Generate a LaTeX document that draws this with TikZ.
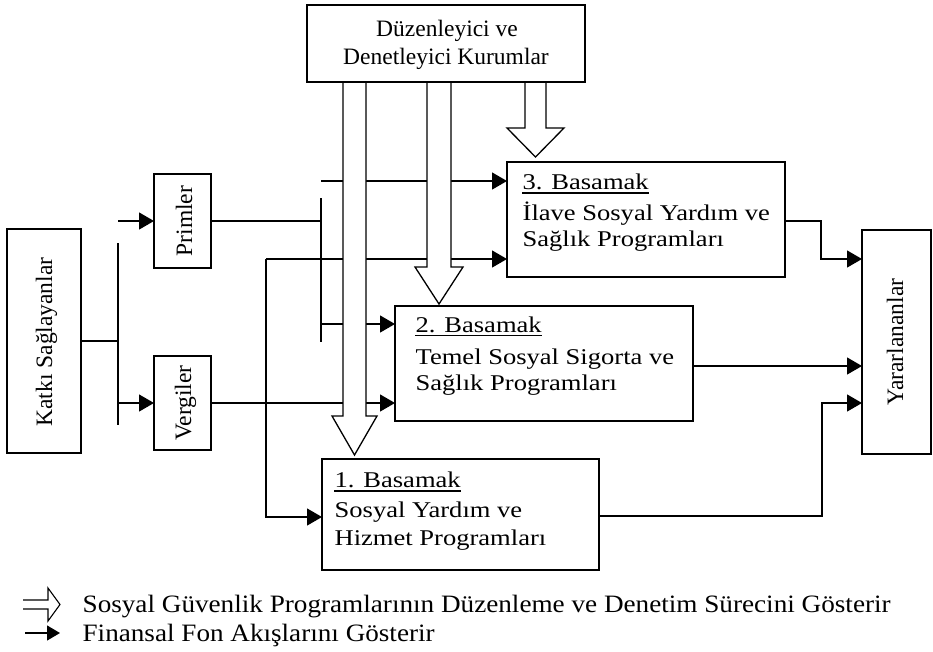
\documentclass[tikz,border=0pt]{standalone}
\usepackage{fontspec}
\usepackage{graphicx}
\setmainfont{Liberation Serif}
\newfontfamily\widefont[FakeStretch=1.18]{Liberation Serif}
\usetikzlibrary{arrows.meta}
\begin{document}
\begin{tikzpicture}[x=1pt,y=-1pt,line width=1.3pt,
  box/.style={draw,inner sep=0pt,outer sep=0pt,anchor=north west},
  arr/.style={-{Triangle[length=15pt,width=17pt]}},
  wide/.style={draw,fill=white,line join=miter},
  lbl/.style={inner sep=0pt,font=\fontsize{23.5}{28}\selectfont},
  rot/.style={lbl,rotate=90,anchor=base},
  bas/.style={inner sep=0pt,anchor=base west,font=\widefont\fontsize{22.5}{28}\selectfont},
  uline/.style={line width=1.2pt}]
\useasboundingbox (0,0) rectangle (933,651);

% boxes
\node[box,minimum width=74pt,minimum height=224pt] (K) at (7,229) {};
\node[box,minimum width=57pt,minimum height=94pt] (P) at (154,174) {};
\node[box,minimum width=57pt,minimum height=94pt] (V) at (154,356) {};
\node[box,minimum width=278pt,minimum height=77pt] (D) at (307,5) {};
\node[box,minimum width=278pt,minimum height=115pt] (B3) at (507,162) {};
\node[box,minimum width=298pt,minimum height=115pt] (B2) at (395,306) {};
\node[box,minimum width=277pt,minimum height=111pt] (B1) at (322,459) {};
\node[box,minimum width=69pt,minimum height=224pt] (Y) at (862,230) {};

% texts
\node[lbl,anchor=base] (d1) at (447,36) {Düzenleyici ve};
\node[lbl,anchor=base] (d2) at (446,64) {Denetleyici Kurumlar};
\node[rot] (kt) at (52,342) {Katkı Sağlayanlar};
\node[rot] (pt) at (192,221) {Primler};
\node[rot] (vt) at (191,403) {Vergiler};
\node[rot] (yt) at (903,342) {Yararlananlar};

\node[bas] (b3a) at (522,189.5) {3. Basamak};
\node[bas] (b3b) at (522,220.5) {İlave Sosyal Yardım ve};
\node[bas] (b3c) at (522,246.5) {Sağlık Programları};
\node[bas] (b2a) at (415,332) {2. Basamak};
\node[bas] (b2b) at (415,364) {Temel Sosyal Sigorta ve};
\node[bas] (b2c) at (415,390.5) {Sağlık Programları};
\node[bas] (b1a) at (334,487.5) {1. Basamak};
\node[bas] (b1b) at (334,517.5) {Sosyal Yardım ve};
\node[bas] (b1c) at (334,545.5) {Hizmet Programları};
\draw[uline] ([yshift=-3.5pt]b3a.base west) -- ([yshift=-3.5pt]b3a.base east);
\draw[uline] ([yshift=-3.5pt]b2a.base west) -- ([yshift=-3.5pt]b2a.base east);
\draw[uline] ([yshift=-3.5pt]b1a.base west) -- ([yshift=-3.5pt]b1a.base east);

% junction coordinates
\coordinate (kj) at (118,341);
\coordinate (lbt) at (118,243);
\coordinate (lbb) at (118,425);
\coordinate (ls1) at (118,221);
\coordinate (ls2) at (118,403);
\coordinate (rbt) at (321,198);
\coordinate (rbb) at (321,342);
\coordinate (rs1) at (321,181);
\coordinate (rj) at (321,221);
\coordinate (rs2) at (321,324);
\coordinate (vj) at (266,259);
\coordinate (vb) at (266,517);
\coordinate (o3) at (821,221);
\coordinate (o3b) at (821,259);
\coordinate (o1) at (822,516);
\coordinate (o1b) at (822,403);

% financial flows
\draw (K.east) -- (kj);
\draw (lbt) -- (lbb);
\draw[arr] (ls1) -- (P.west);
\draw[arr] (ls2) -- (V.west);
\draw (P.east) -- (rj);
\draw (rbt) -- (rbb);
\draw[arr] (rs1) -- (B3.west |- rs1);
\draw[arr] (vj) -- (B3.west |- vj);
\draw[arr] (vj) -- (vb) -- (B1.west |- vb);
\draw[arr] (rs2) -- (B2.west |- rs2);
\draw[arr] (V.east) -- (B2.west |- V.east);
\draw[arr] (B3.east |- o3) -- (o3) -- (o3b) -- (Y.west |- o3b);
\draw[arr] (B2.east |- 0,366) -- (Y.west |- 0,366);
\draw[arr] (B1.east |- o1) -- (o1) -- (o1b) -- (Y.west |- o1b);

% regulation arrows
\draw[wide] (343,83) -- (343,416) -- (332,416) -- (354.5,455) -- (377,416) -- (366,416) -- (366,83);
\draw[wide] (427,83) -- (427,267) -- (415,267) -- (439,304) -- (463,267) -- (451,267) -- (451,83);
\draw[wide] (525,83) -- (525,128) -- (507,128) -- (535.5,157) -- (564,128) -- (546,128) -- (546,83);

% legend
\draw[line width=1.1pt,line join=miter] (23,600) -- (48,600) -- (48,588) -- (60,604.5) -- (48,621) -- (48,609) -- (23,609);
\draw[line width=1.3pt,-{Triangle[length=13pt,width=15pt]}] (25,633) -- (60,633);
\node[inner sep=0pt,anchor=base west] (l1) at (82,612) {\resizebox{808pt}{\height}{\fontsize{25}{30}\selectfont Sosyal Güvenlik Programlarının Düzenleme ve Denetim Sürecini Gösterir}};
\node[inner sep=0pt,anchor=base west] (l2) at (82,641) {\resizebox{352pt}{\height}{\fontsize{25}{30}\selectfont Finansal Fon Akışlarını Gösterir}};
\end{tikzpicture}
\end{document}
